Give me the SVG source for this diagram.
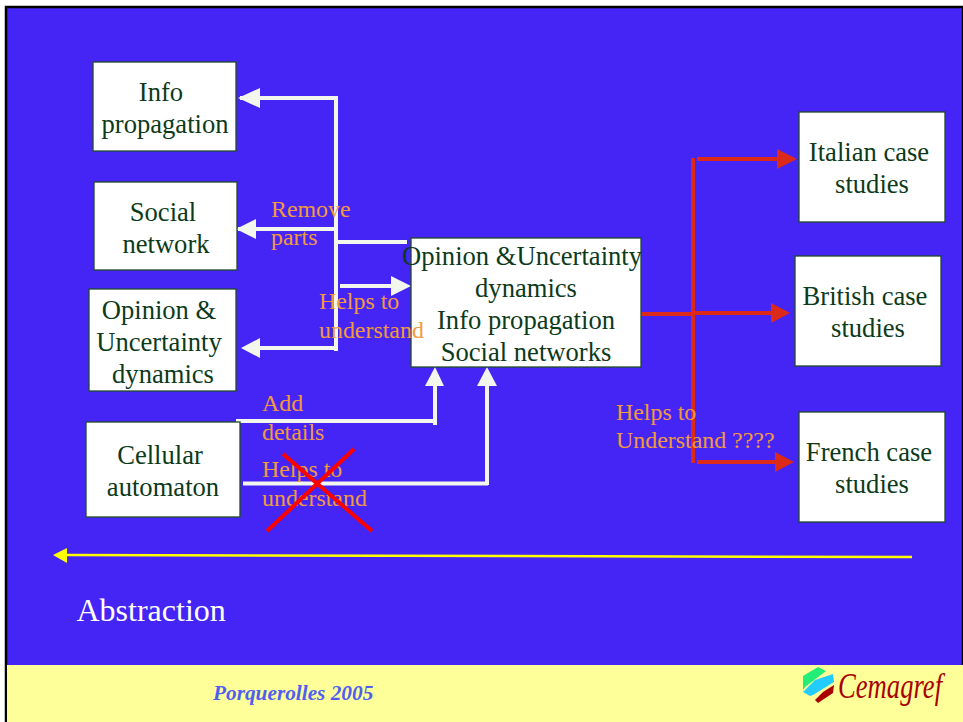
<svg xmlns="http://www.w3.org/2000/svg" width="963" height="722" viewBox="0 0 963 722">
<style>
.node{fill:#fff;stroke:#1f4a2a;stroke-width:1.3}
.t{font-family:"Liberation Serif",serif;font-size:26.6px;fill:#0c3a1a;text-anchor:middle}
.l{font-family:"Liberation Serif",serif;font-size:23.9px;fill:#f29a3c}
.w{stroke:#f2f6ec;stroke-width:4;fill:none}
.r{stroke:#dc2a1a;stroke-width:4;fill:none}
.wh{fill:#f2f6ec}
.rh{fill:#dc2a1a}
</style>
<rect width="963" height="722" fill="#fff"/>
<rect x="6" y="7" width="957" height="715" fill="#4525f5" stroke="#000" stroke-width="2.5"/>
<rect x="7" y="665" width="956" height="57" fill="#ffff99"/>
<g id="connectors">
<path class="w" d="M336 96V351M240 98H338M238 229H336M338 242H407M340 286H395M336 348H258M236 421H437M435 381V425M243 483.500H488M487 384V485"/>
<polygon class="wh" points="238,98 260,88 260,108"/>
<polygon class="wh" points="236,229 256,219 256,239"/>
<polygon class="wh" points="241,348 260,338 260,358"/>
<polygon class="wh" points="411,286 391,276 391,296"/>
<polygon class="wh" points="435,367 425,386 444,386"/>
<polygon class="wh" points="487,367 477,386 497,386"/>
<path class="r" d="M693 158V463M641 314H693M693 313H775M697 159H780M697 462H778"/>
<polygon class="rh" points="797,159 777,149 777,169"/>
<polygon class="rh" points="790,313 771,303 771,323"/>
<polygon class="rh" points="794,462 775,452 775,472"/>
<path d="M53 555L67 548V563Z" fill="#ffff00"/>
<path d="M66 555L912 557" stroke="#ffff00" stroke-width="2.500" fill="none"/>
</g>
<g id="info"><rect class="node" x="93" y="62" width="143" height="89"/><text class="t" x="161" y="100.500">Info</text><text class="t" x="165" y="132.500">propagation</text></g>
<g id="social"><rect class="node" x="94" y="182" width="143" height="88"/><text class="t" x="163" y="220.500">Social</text><text class="t" x="166" y="252.500">network</text></g>
<g id="opinion"><rect class="node" x="89" y="289" width="147" height="102"/><text class="t" x="159" y="319">Opinion &amp;</text><text class="t" x="159" y="351">Uncertainty</text><text class="t" x="163" y="383">dynamics</text></g>
<g id="cellular"><rect class="node" x="86" y="422" width="154" height="95"/><text class="t" x="160" y="463.500">Cellular</text><text class="t" x="163" y="495.500">automaton</text></g>
<g id="centre"><rect class="node" x="411" y="238" width="230" height="129"/><text class="t" x="522" y="264.500">Opinion &amp;Uncertainty</text><text class="t" x="526" y="296.500">dynamics</text><text class="t" x="526" y="328.500">Info propagation</text><text class="t" x="526" y="360.500">Social networks</text></g>
<g id="italian"><rect class="node" x="799" y="112" width="146" height="110"/><text class="t" x="869" y="160.500">Italian case</text><text class="t" x="872" y="192.500">studies</text></g>
<g id="british"><rect class="node" x="795" y="256" width="146" height="110"/><text class="t" x="865" y="304.500">British case</text><text class="t" x="868" y="336.500">studies</text></g>
<g id="french"><rect class="node" x="799" y="412" width="146" height="110"/><text class="t" x="869" y="460.500">French case</text><text class="t" x="872" y="492.500">studies</text></g>
<g id="labels">
<text class="l" x="271" y="217">Remove</text><text class="l" x="271" y="245">parts</text>
<text class="l" x="319" y="309">Helps to</text><text class="l" x="319" y="338">understand</text>
<text class="l" x="262" y="411">Add</text><text class="l" x="262" y="440">details</text>
<text class="l" x="262" y="477">Helps to</text><text class="l" x="262" y="506">understand</text>
<text class="l" x="616" y="420">Helps to</text><text class="l" x="616" y="448">Understand ????</text>
</g>
<path d="M283 454L372 531M354 449L267 531" stroke="#ff0000" stroke-width="4" fill="none"/>
<text x="76.500" y="621" font-family="Liberation Serif, serif" font-size="32" fill="#fff">Abstraction</text>
<text x="213" y="700" font-family="Liberation Serif, serif" font-size="21.300" font-weight="bold" font-style="italic" fill="#4f5ff0">Porquerolles 2005</text>
<g id="logo">
<polygon points="803,676 818,667 826,671 805,687 803,690" fill="#22ee77"/>
<polygon points="803,692 815,680 833,674 834,682 813,695 810,696" fill="#22ccff"/>
<polygon points="815,700 818,703 833,693 834,685 823,692" fill="#aa0000"/>
<text transform="translate(838 698) scale(.74 1)" font-family="Liberation Serif, serif" font-size="36" font-style="italic" fill="#aa0000">Cemagref</text>
</g>
</svg>
